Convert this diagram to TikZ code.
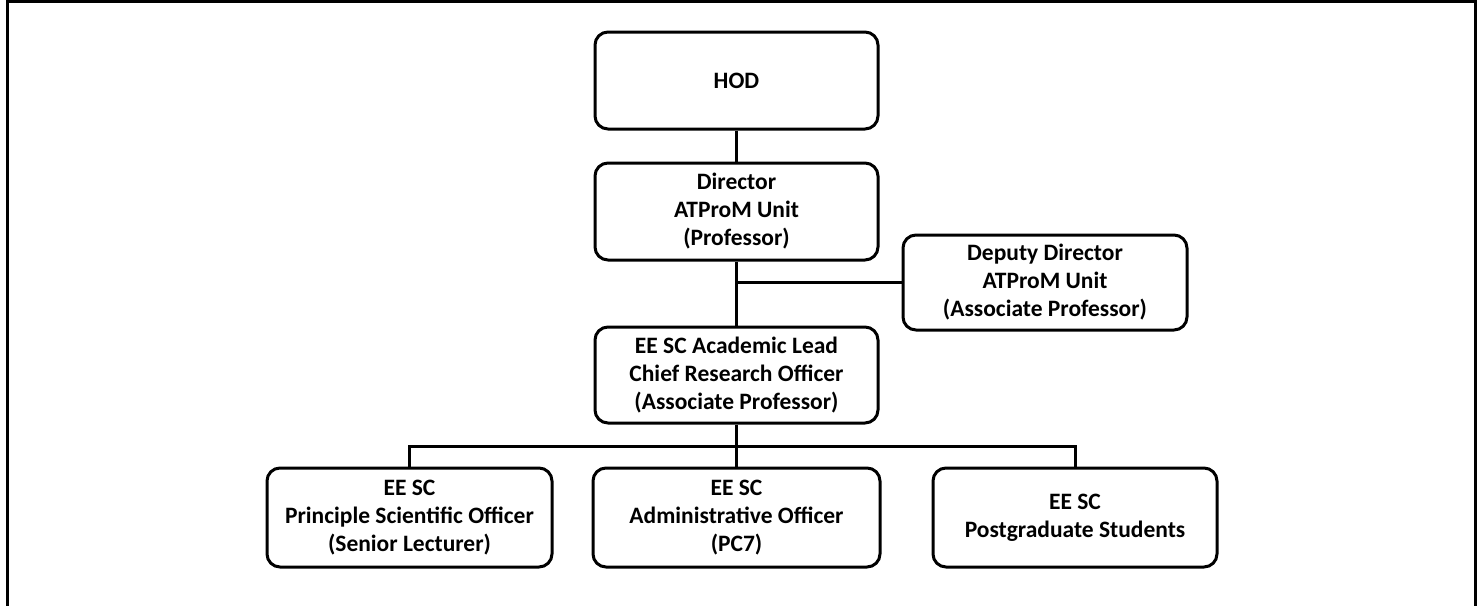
\documentclass[tikz,border=0pt]{standalone}
\usepackage{fontspec}
\setmainfont{Carlito}
\begin{document}
\begin{tikzpicture}[x=1pt,y=-1pt,
  orgbox/.style={draw=black, line width=3pt, rounded corners=13pt, fill=white,
    inner sep=0pt, minimum height=97pt, align=center,
    font=\fontsize{23.5}{28}\selectfont\bfseries},
  link/.style={draw=black, line width=3pt, line join=miter}]
\useasboundingbox (0,0) rectangle (1483,605);
\fill[white] (0,0) rectangle (1483,605);
\begin{scope}
\clip (0,0) rectangle (1483,605);
\draw[line width=3pt] (7,1) rectangle (1475,640);
\end{scope}
\node[orgbox, minimum width=283pt] (hod) at (736.5,80.5) {HOD};
\node[orgbox, minimum width=283pt] (dir) at (736.5,211.5) {Director\\ATProM Unit\\(Professor)};
\node[orgbox, minimum width=284pt, minimum height=95pt] (dep) at (1045,282.5) {Deputy Director\\ATProM Unit\\(Associate Professor)};
\node[orgbox, minimum width=283pt, minimum height=96pt] (lead) at (736.5,375) {EE SC Academic Lead\\Chief Research Officer\\(Associate Professor)};
\node[orgbox, minimum width=285pt, minimum height=99pt] (b1) at (409.5,517.5) {EE SC\\Principle Scientific Officer\\(Senior Lecturer)};
\node[orgbox, minimum width=287pt, minimum height=99pt] (b2) at (736.5,517.5) {EE SC\\Administrative Officer\\(PC7)};
\node[orgbox, minimum width=284pt, minimum height=99pt] (b3) at (1075,517.5) {EE SC\\Postgraduate Students};
\coordinate (j1) at (736.5,282);
\coordinate (j2) at (736.5,446);
\draw[link] (hod.south) -- (dir.north);
\draw[link] (dir.south) -- (lead.north);
\draw[link] (j1) -- (j1 -| dep.west);
\draw[link] (lead.south) -- (b2.north);
\draw[link] (b1.north) -- (b1.north |- j2) -- (b3.north |- j2) -- (b3.north);
\end{tikzpicture}
\end{document}
